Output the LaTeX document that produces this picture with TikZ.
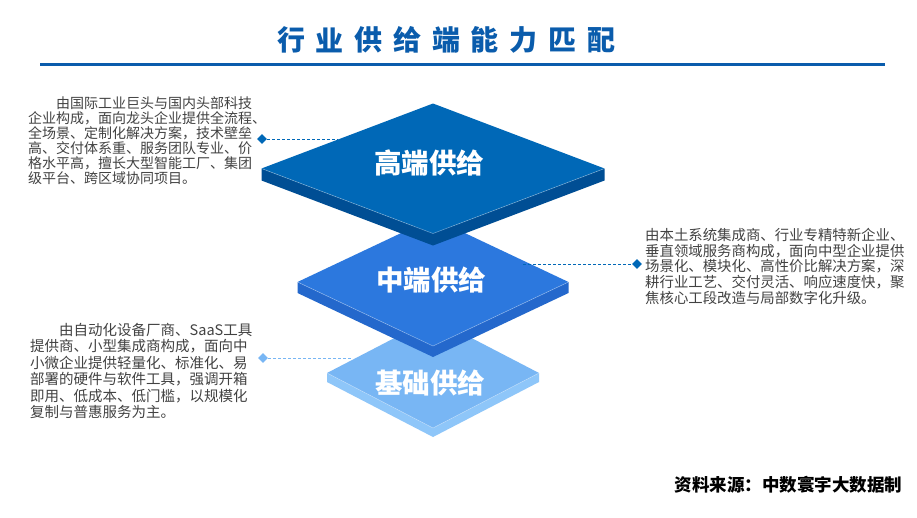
\documentclass[tikz,border=0pt]{standalone}
\usepackage{fontspec}
\setmainfont{Noto Sans CJK SC}
\usepackage{tikz}
\usetikzlibrary{shapes.geometric}
\definecolor{titleblue}{RGB}{10,92,172}
\definecolor{hiface}{RGB}{0,104,183}
\definecolor{hiside}{RGB}{0,78,148}
\definecolor{midface}{RGB}{44,120,222}
\definecolor{midside}{RGB}{36,104,204}
\definecolor{lowface}{RGB}{120,182,244}
\definecolor{lowside}{RGB}{142,198,249}
\definecolor{descgray}{RGB}{66,66,66}
\tikzstyle{desc}=[inner sep=0pt,align=left,anchor=north west,text=descgray]
\tikzstyle{tip}=[diamond,fill,inner sep=0pt,minimum size=10pt]
\tikzstyle{lead}=[densely dashed,line width=0.7pt]
\tikzstyle{lvl}=[text=white,font=\fontsize{27.5}{27.5}\selectfont\bfseries]

\begin{document}
\begin{tikzpicture}[x=1pt,y=-1pt]
	\fill[white] (0,0) rectangle (917,517);
	\useasboundingbox (0,0) rectangle (917,517);
	% title
	\foreach \c [count=\i from 0] in {行,业,供,给,端,能,力,匹,配}
	{
		\node[text=titleblue,font=\fontsize{28}{28}\selectfont\bfseries] (t\i) at (291+38.75*\i,40) {\c};
	}
	\draw[titleblue,line width=3pt] (40,64) -- (885,64);
	% layers, bottom first
	\foreach \n/\yv/\hw/\hh/\th/\fc/\sc in {low/373/106/55/9/lowface/lowside,mid/282/135.5/64/11/midface/midside,hi/168.5/171.5/65/12/hiface/hiside}
	{
		\fill[\sc] (433-\hw,\yv) -- (433,\yv+\hh) -- (433+\hw,\yv) -- (433+\hw,\yv+\th) -- (433,\yv+\hh+\th) -- (433-\hw,\yv+\th) -- cycle;
		\fill[\fc] (433-\hw,\yv) -- (433,\yv-\hh) -- (433+\hw,\yv) -- (433,\yv+\hh) -- cycle;
		\draw[white,opacity=0.35,line width=0.6pt] (433-\hw,\yv) -- (433,\yv+\hh) -- (433+\hw,\yv);
	}
	\node[lvl] (hi) at (429,163) {高端供给};
	\node[lvl] (mid) at (431,280) {中端供给};
	\node[lvl] (low) at (430,383) {基础供给};
	% leaders
	\node[tip,hiface] (p1) at (262,139) {};
	\coordinate (e1) at (338,139);
	\draw[lead,hiface] (p1) -- (e1);
	\node[tip,hiface] (p2) at (637,264) {};
	\coordinate (e2) at (523,264);
	\draw[lead,hiface] (e2) -- (p2);
	\node[tip,lowface] (p3) at (263,358) {};
	\coordinate (e3) at (352,358);
	\draw[lead,lowface] (p3) -- (e3);
	% texts
	\node[desc,font=\fontsize{14}{15}\selectfont] (hitext) at (28,96) {\hspace*{2em}由国际工业巨头与国内头部科技\\企业构成，面向龙头企业提供全流程、\\全场景、定制化解决方案，技术壁垒\\高、交付体系重、服务团队专业、价\\格水平高，擅长大型智能工厂、集团\\级平台、跨区域协同项目。};
	\node[desc,font=\fontsize{14.4}{15.75}\selectfont] (midtext) at (645,228) {由本土系统集成商、行业专精特新企业、\\垂直领域服务商构成，面向中型企业提供\\场景化、模块化、高性价比解决方案，深\\耕行业工艺、交付灵活、响应速度快，聚\\焦核心工段改造与局部数字化升级。};
	\node[desc,font=\fontsize{14.5}{16.4}\selectfont] (lowtext) at (30,323) {\hspace*{2em}由自动化设备厂商、SaaS工具\\提供商、小型集成商构成，面向中\\小微企业提供轻量化、标准化、易\\部署的硬件与软件工具，强调开箱\\即用、低成本、低门槛，以规模化\\复制与普惠服务为主。};
	\node[anchor=east,font=\fontsize{17.5}{17.5}\selectfont\bfseries] (src) at (906,485) {资料来源：中数寰宇大数据制};
\end{tikzpicture}
\end{document}
